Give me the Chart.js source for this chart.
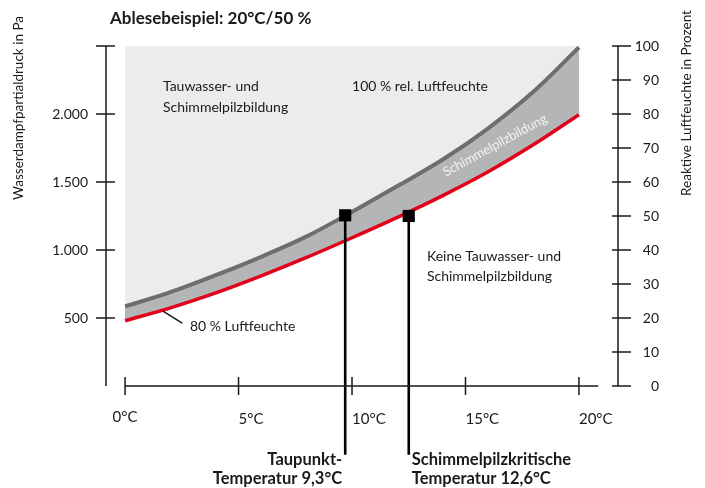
<!DOCTYPE html>
<html>
<head>
<meta charset="utf-8">
<script src="https://cdn.jsdelivr.net/npm/chart.js@4.4.1/dist/chart.umd.min.js"></script>
<style>
  html, body { margin: 0; padding: 0; background: #fff; }
  #wrap { width: 705px; height: 488px; }
</style>
</head>
<body>
<div id="wrap"><canvas id="chart" width="705" height="488"></canvas></div>
<script>
// Temperatur in °C, Wasserdampfpartialdruck in Pa
const temps = [0, 2, 4, 6, 8, 10, 12, 14, 16, 18, 20];
const saturation = [585, 690, 815, 950, 1100, 1280, 1470, 1665, 1895, 2165, 2490]; // 100 % rel. Luftfeuchte
const humidity80 = [480, 575, 685, 810, 945, 1090, 1240, 1400, 1575, 1775, 1995]; // 80 % Luftfeuchte

// Ablesebeispiel
const markerTemps = [9.7, 12.5];
const markerPressure = [1255, 1250];
const dropEnd = -505;

const xTicks = [0, 5, 10, 15, 20];
const paTicks = [500, 1000, 1500, 2000, 2500];
const rhTicks = [0, 10, 20, 30, 40, 50, 60, 70, 80, 90, 100];
const xAxisEnd = 20.85;

const FONT = "Lato, 'Noto Sans', sans-serif";
const INK = "#1a1a1a";

const fmtPa = (v) => String(v).replace(/\B(?=(\d{3})+(?!\d))/g, ".");

const axisPlugin = {
    id: "axisCross",
    afterDatasetsDraw(chart) {
        const { ctx, chartArea, scales } = chart;
        const { x, y, y2 } = scales;
        ctx.save();
        ctx.strokeStyle = INK;
        ctx.lineWidth = 1.5;
        ctx.beginPath();
        // left axis
        const l = chartArea.left;
        ctx.moveTo(l, y.getPixelForValue(2500));
        ctx.lineTo(l, y.getPixelForValue(0));
        paTicks.forEach((v) => {
            const py = y.getPixelForValue(v);
            ctx.moveTo(l - 10, py);
            ctx.lineTo(l + 9, py);
        });
        // x axis
        const base = y.getPixelForValue(0);
        ctx.moveTo(x.getPixelForValue(0), base);
        ctx.lineTo(x.getPixelForValue(xAxisEnd), base);
        xTicks.forEach((v) => {
            const px = x.getPixelForValue(v);
            ctx.moveTo(px, base - 9);
            ctx.lineTo(px, base + 9);
        });
        // right axis
        const r = chartArea.right;
        ctx.moveTo(r, y2.getPixelForValue(100));
        ctx.lineTo(r, y2.getPixelForValue(0));
        rhTicks.forEach((v) => {
            const py = y2.getPixelForValue(v);
            ctx.moveTo(r - 6, py);
            ctx.lineTo(r + 13, py);
        });
        ctx.stroke();
        ctx.restore();
    },
    afterDraw(chart) {
        const { ctx, scales } = chart;
        const { x, y } = scales;
        const px = (t) => x.getPixelForValue(t);
        const py = (p) => y.getPixelForValue(p);
        ctx.save();
        ctx.fillStyle = INK;
        ctx.textBaseline = "middle";

        // title
        ctx.font = `bold 17px ${FONT}`;
        ctx.textAlign = "left";
        ctx.fillText("Ablesebeispiel: 20°C/50 %", 110, 19);

        // first x label sits centred under its tick
        ctx.font = `15px ${FONT}`;
        ctx.textAlign = "center";
        ctx.fillText(`${xTicks[0]}°C`, px(xTicks[0]), 417);

        // annotations
        ctx.textAlign = "left";
        ctx.font = `14px ${FONT}`;
        ctx.fillText("Tauwasser- und", px(1.67), py(2200));
        ctx.fillText("Schimmelpilzbildung", px(1.67), py(2045));
        ctx.fillText("100 % rel. Luftfeuchte", px(10.0), py(2200));
        ctx.fillText("Keine Tauwasser- und", px(13.3), py(950));
        ctx.fillText("Schimmelpilzbildung", px(13.3), py(805));
        ctx.fillText("80 % Luftfeuchte", px(2.86), py(440));

        ctx.strokeStyle = INK;
        ctx.lineWidth = 1.5;
        ctx.beginPath();
        ctx.moveTo(px(1.67), py(550));
        ctx.lineTo(px(2.52), py(462));
        ctx.stroke();

        // label inside the band
        ctx.save();
        ctx.translate(px(16.3), py(1770));
        ctx.rotate(-28.5 * Math.PI / 180);
        ctx.fillStyle = "#f4f4f4";
        ctx.font = `13px ${FONT}`;
        ctx.textAlign = "center";
        ctx.fillText("Schimmelpilzbildung", 0, 0);
        ctx.restore();

        // reading example labels
        ctx.font = `bold 16.5px ${FONT}`;
        ctx.textAlign = "right";
        ctx.fillText("Taupunkt-", px(markerTemps[0]) - 3, 460);
        ctx.fillText("Temperatur 9,3°C", px(markerTemps[0]) - 3, 479);
        ctx.textAlign = "left";
        ctx.fillText("Schimmelpilzkritische", px(markerTemps[1]) + 3, 460);
        ctx.fillText("Temperatur 12,6°C", px(markerTemps[1]) + 3, 479);

        // axis titles
        ctx.font = `13.5px ${FONT}`;
        ctx.textAlign = "center";
        ctx.save();
        ctx.translate(19, 108);
        ctx.rotate(-Math.PI / 2);
        ctx.fillText("Wasserdampfpartialdruck in Pa", 0, 0);
        ctx.restore();
        ctx.save();
        ctx.translate(687, 103);
        ctx.rotate(-Math.PI / 2);
        ctx.fillText("Reaktive Luftfeuchte in Prozent", 0, 0);
        ctx.restore();

        ctx.restore();
    }
};

const curve = (vals) => temps.map((t, i) => ({ x: t, y: vals[i] }));

const config = {
    type: "line",
    data: {
        datasets: [
            {
                data: markerTemps.map((t, i) => ({ x: t, y: markerPressure[i] })),
                showLine: false,
                pointStyle: "rect",
                pointRadius: 8.6,
                pointBackgroundColor: "#000",
                pointBorderWidth: 0
            },
            {
                data: [{ x: markerTemps[0], y: markerPressure[0] }, { x: markerTemps[0], y: dropEnd }],
                borderColor: "#000",
                borderWidth: 2.6,
                pointRadius: 0,
                clip: false
            },
            {
                data: [{ x: markerTemps[1], y: markerPressure[1] }, { x: markerTemps[1], y: dropEnd }],
                borderColor: "#000",
                borderWidth: 2.6,
                pointRadius: 0,
                clip: false
            },
            {
                label: "100 % rel. Luftfeuchte",
                data: curve(saturation),
                borderColor: "#6e6e6e",
                borderWidth: 4,
                backgroundColor: "#ebecec",
                fill: "end",
                pointRadius: 0,
                cubicInterpolationMode: "monotone"
            },
            {
                label: "80 % Luftfeuchte",
                data: curve(humidity80),
                borderColor: "#e2001a",
                borderWidth: 3.5,
                backgroundColor: "#b4b5b6",
                fill: "-1",
                pointRadius: 0,
                cubicInterpolationMode: "monotone"
            }
        ]
    },
    options: {
        responsive: false,
        animation: false,
        layout: { padding: { top: 46, left: 0, right: 46, bottom: 0 } },
        plugins: {
            legend: { display: false },
            tooltip: { enabled: false }
        },
        scales: {
            x: {
                type: "linear",
                min: -0.84,
                max: 21.72,
                grid: { display: false },
                border: { display: false },
                afterBuildTicks: (axis) => { axis.ticks = xTicks.map((v) => ({ value: v })); },
                afterFit: (axis) => { axis.height = 102; },
                ticks: {
                    align: "start",
                    padding: 16,
                    maxRotation: 0,
                    color: INK,
                    font: { family: FONT, size: 15 },
                    callback: (v) => (v === xTicks[0] ? "" : `${v}°C`)
                }
            },
            y: {
                position: "left",
                min: 0,
                max: 2500,
                grid: { display: false },
                border: { display: false },
                afterBuildTicks: (axis) => { axis.ticks = paTicks.map((v) => ({ value: v })); },
                afterFit: (axis) => { axis.width = 106; },
                ticks: {
                    padding: 10,
                    color: INK,
                    font: { family: FONT, size: 14 },
                    callback: (v) => (v === 2500 ? "" : fmtPa(v))
                }
            },
            y2: {
                position: "right",
                min: 0,
                max: 100,
                grid: { display: false },
                border: { display: false },
                afterBuildTicks: (axis) => { axis.ticks = rhTicks.map((v) => ({ value: v })); },
                afterFit: (axis) => { axis.width = 41; },
                ticks: {
                    padding: 17,
                    crossAlign: "far",
                    color: INK,
                    font: { family: FONT, size: 14 }
                }
            }
        }
    },
    plugins: [axisPlugin]
};

new Chart(document.getElementById("chart"), config);
</script>
</body>
</html>
